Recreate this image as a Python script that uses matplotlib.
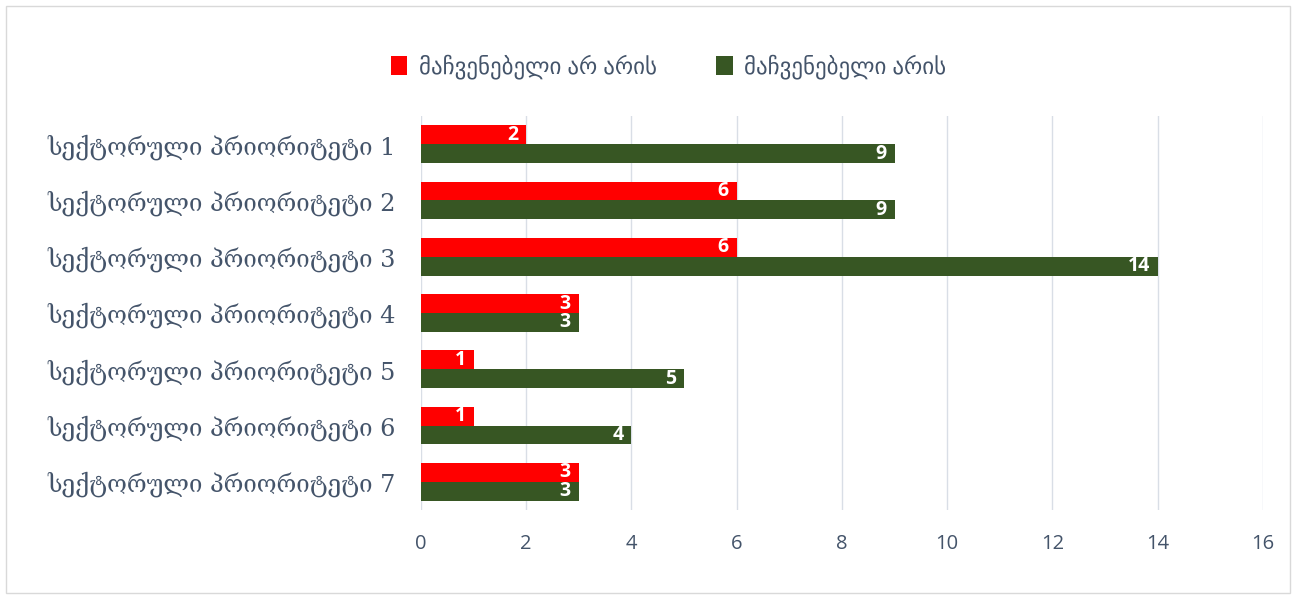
import matplotlib
matplotlib.use("Agg")
import matplotlib.pyplot as plt
from matplotlib.patches import Rectangle

categories = [f"სექტორული პრიორიტეტი {i}" for i in range(1, 8)]
not_present = [2, 6, 6, 3, 1, 1, 3]
present = [9, 9, 14, 3, 5, 4, 3]
series_names = ["მაჩვენებელი არ არის", "მაჩვენებელი არის"]
xticks = [0, 2, 4, 6, 8, 10, 12, 14, 16]

RED = "#FF0000"
GREEN = "#375623"
TXT = "#44546A"

fig = plt.figure(figsize=(12.96, 5.99), dpi=100)
fig.patches.append(Rectangle((0.005, 0.01), 0.99, 0.98, transform=fig.transFigure,
                             fill=False, edgecolor="#D9D9D9", linewidth=1))
ax = fig.add_axes([0.3248, 0.1486, 0.6497, 0.6577])

n = len(categories)
pos = list(range(n))
h = 0.335
b1 = ax.barh([p - h / 2 for p in pos], not_present, height=h, color=RED, label=series_names[0])
b2 = ax.barh([p + h / 2 for p in pos], present, height=h, color=GREEN, label=series_names[1])

for bars, vals in ((b1, not_present), (b2, present)):
    for r, v in zip(bars, vals):
        ax.text(r.get_width() - 0.15, r.get_y() + r.get_height() / 2, str(v),
                ha="right", va="center", color="white", fontsize=14, fontweight="bold",
                family=["Open Sans", "DejaVu Sans"])

ax.set_ylim(n - 0.5, -0.5)
ax.set_xlim(0, 16)
ax.set_xticks(xticks)
ax.set_xticklabels([str(t) for t in xticks], fontsize=14.5, color=TXT, family=["Open Sans", "DejaVu Sans"])
ax.set_yticks(pos)
ax.set_yticklabels(categories, fontsize=17.3, color=TXT, family=["DejaVu Serif", "DejaVu Sans"])
ax.tick_params(axis="both", length=0)
ax.tick_params(axis="x", pad=17)
ax.tick_params(axis="y", pad=18)
ax.grid(axis="x", color="#D9DEE6", linewidth=1)
ax.set_axisbelow(True)
for s in ax.spines.values():
    s.set_visible(False)

leg = fig.legend(loc="center", bbox_to_anchor=(0.516, 0.888), ncol=2, frameon=False,
                 prop={"family": ["Noto Sans", "DejaVu Sans"], "size": 16.5},
                 handlelength=0.7, handleheight=0.9, columnspacing=2.6, handletextpad=0.5)
for t in leg.get_texts():
    t.set_color(TXT)

fig.savefig("out.png", dpi=100)
